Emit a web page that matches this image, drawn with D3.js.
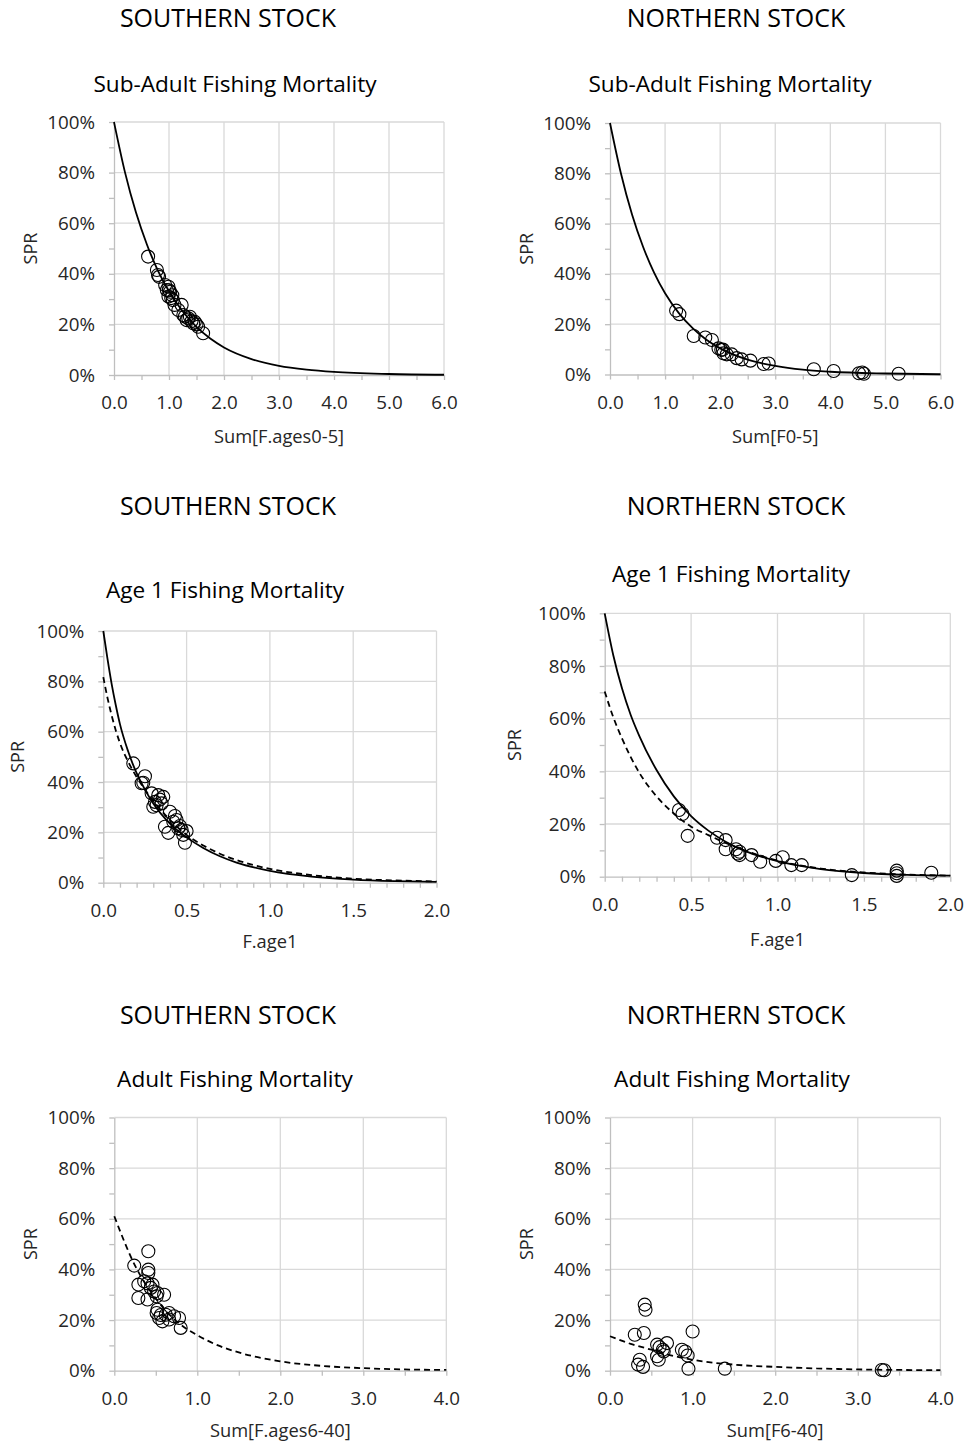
<!DOCTYPE html>
<html>
<head>
<meta charset="utf-8">
<script src="https://cdn.jsdelivr.net/npm/d3@7"></script>
<style>
  body { margin: 0; background: #fff; }
  svg { display: block; font-family: 'Open Sans', sans-serif; }
</style>
</head>
<body>
<svg id="chart" width="968" height="1444"></svg>
<script>
// ---- tick values ----
const yTicks = [0, 10, 20, 30, 40, 50, 60, 70, 80, 90, 100];   // labels on every 20%
const subXTicks = [0, 1, 2, 3, 4, 5, 6];
const subXMinor = [0, 0.5, 1, 1.5, 2, 2.5, 3, 3.5, 4, 4.5, 5, 5.5, 6];
const age1XTicks = [0, 0.5, 1, 1.5, 2];
const age1XMinor = [0, 0.1, 0.2, 0.3, 0.4, 0.5, 0.6, 0.7, 0.8, 0.9, 1, 1.1, 1.2, 1.3, 1.4, 1.5, 1.6, 1.7, 1.8, 1.9, 2];
const adultXTicks = [0, 1, 2, 3, 4];
const adultXMinor = [0, 0.5, 1, 1.5, 2, 2.5, 3, 3.5, 4];

// ---- southern stock, sub-adult F (sum F ages 0-5) vs SPR % ----
const southSubPts = [[0.62, 46.8], [0.78, 41.5], [0.80, 39.5], [0.82, 38.8], [0.93, 35.6], [0.96, 33.6],
  [0.99, 34.9], [1.00, 33.5], [1.02, 32.9], [0.99, 31.0], [1.04, 30.4], [1.06, 31.5], [1.07, 29.6],
  [1.10, 27.7], [1.17, 25.7], [1.23, 27.7], [1.26, 23.7], [1.29, 23.1], [1.32, 21.7], [1.35, 22.4],
  [1.38, 23.0], [1.41, 21.3], [1.44, 20.4], [1.47, 21.0], [1.50, 20.0], [1.53, 19.1], [1.62, 16.5]];
const southSubCurveF = [0, 0.2, 0.4, 0.6, 0.8, 1.0, 1.25, 1.5, 1.75, 2, 2.5, 3, 3.5, 4, 5, 6];
const southSubCurve = [100, 80.1, 64.2, 51.5, 41.2, 33.1, 25.1, 19.0, 14.4, 10.9, 6.3, 3.6, 2.1, 1.2, 0.4, 0.1];

// ---- northern stock, sub-adult F (sum F0-5) ----
const northSubPts = [[1.20, 25.4], [1.26, 24.0], [1.52, 15.3], [1.73, 14.7], [1.85, 13.7], [1.97, 10.4],
  [2.02, 9.8], [2.05, 9.9], [2.06, 8.4], [2.12, 8.0], [2.21, 8.0], [2.30, 6.5], [2.39, 6.0], [2.55, 5.5],
  [2.79, 4.2], [2.88, 4.4], [3.70, 2.1], [4.06, 1.4], [4.52, 0.5], [4.58, 0.8], [4.61, 0.3], [5.24, 0.3]];
const northSubCurveF = [0, 0.2, 0.4, 0.6, 0.8, 1.0, 1.25, 1.5, 1.75, 2, 2.5, 3, 3.5, 4, 5, 6];
const northSubCurve = [100, 79.8, 63.6, 50.8, 40.5, 32.3, 24.4, 18.4, 13.8, 10.4, 5.9, 3.4, 1.9, 1.1, 0.4, 0.1];

// ---- southern stock, age 1 F ----
const southAge1Pts = [[0.18, 47.4], [0.23, 39.5], [0.24, 39.7], [0.25, 42.3], [0.29, 35.5], [0.30, 30.2],
  [0.31, 32.1], [0.32, 30.8], [0.33, 34.8], [0.34, 33.0], [0.35, 31.5], [0.36, 34.1], [0.37, 22.2],
  [0.39, 19.8], [0.40, 28.2], [0.42, 24.2], [0.43, 26.5], [0.44, 24.9], [0.45, 21.6], [0.46, 22.5],
  [0.47, 21.0], [0.48, 19.0], [0.49, 15.9], [0.50, 20.5]];
const southAge1CurveF = [0, 0.025, 0.05, 0.075, 0.1, 0.15, 0.2, 0.25, 0.3, 0.4, 0.5, 0.6, 0.7, 0.8, 1.0, 1.25, 1.5, 1.75, 2.0];
const southAge1Solid = [100, 89, 79, 70.5, 63, 52, 43.5, 37, 31.5, 23.5, 18, 13.8, 10.5, 8, 4.7, 2.4, 1.2, 0.6, 0.3];
const southAge1Dashed = [81.7, 73.5, 66.5, 60.5, 55.5, 48, 42, 37, 32.5, 25, 19, 14.8, 11.5, 9, 5.5, 3, 1.6, 0.9, 0.5];

// ---- northern stock, age 1 F ----
const northAge1Pts = [[0.43, 25.3], [0.45, 23.8], [0.48, 15.5], [0.65, 14.8], [0.70, 13.9], [0.70, 10.4],
  [0.76, 10.4], [0.77, 8.8], [0.78, 9.5], [0.78, 8.2], [0.85, 8.2], [0.90, 5.7], [0.99, 6.0], [1.03, 7.4],
  [1.08, 4.4], [1.14, 4.4], [1.43, 0.6], [1.69, 2.3], [1.69, 1.3], [1.69, 0.3], [1.89, 1.5]];
const northAge1CurveF = [0, 0.05, 0.1, 0.15, 0.2, 0.3, 0.4, 0.5, 0.6, 0.7, 0.8, 1.0, 1.25, 1.5, 1.75, 2.0];
const northAge1Solid = [100, 84, 71.5, 61.5, 53.5, 40.5, 30.5, 23, 17.5, 13.3, 10.1, 5.9, 2.9, 1.4, 0.7, 0.4];
const northAge1Dashed = [70.3, 60.5, 52.5, 45.5, 39.5, 30.5, 24, 19, 15.8, 12.8, 10.2, 6.1, 3.1, 1.6, 0.8, 0.4];

// ---- southern stock, adult F (sum F ages 6-40) ----
const southAdultPts = [[0.41, 47.2], [0.24, 41.5], [0.41, 39.9], [0.41, 38.6], [0.29, 34.0], [0.36, 35.3],
  [0.40, 34.5], [0.46, 34.0], [0.44, 32.7], [0.48, 31.3], [0.52, 30.7], [0.60, 30.0], [0.29, 28.7],
  [0.40, 28.1], [0.51, 29.4], [0.52, 24.1], [0.51, 22.8], [0.56, 22.0], [0.62, 22.1], [0.66, 22.8],
  [0.54, 20.8], [0.58, 19.5], [0.66, 20.2], [0.72, 21.5], [0.78, 20.8], [0.80, 16.9]];
const southAdultCurveF = [0, 0.25, 0.5, 0.75, 1, 1.25, 1.5, 2, 2.5, 3, 3.5, 4];
const southAdultDashed = [61, 41.5, 28.5, 19.5, 14, 10, 7.2, 3.7, 1.9, 1.0, 0.5, 0.3];

// ---- northern stock, adult F (sum F6-40) ----
const northAdultPts = [[0.30, 14.2], [0.41, 14.9], [0.42, 26.1], [0.43, 24.1], [0.34, 2.4], [0.36, 4.3],
  [0.40, 1.5], [0.57, 10.3], [0.60, 9.3], [0.64, 8.3], [0.65, 7.6], [0.57, 5.7], [0.59, 4.3], [0.69, 10.9],
  [0.87, 8.3], [0.91, 7.6], [0.94, 6.0], [0.95, 0.8], [1.00, 15.5], [1.39, 0.8], [3.29, 0.3], [3.32, 0.2]];
const northAdultCurveF = [0, 0.25, 0.5, 0.75, 1, 1.5, 2, 2.5, 3, 3.5, 4];
const northAdultDashed = [13.6, 10.6, 8.3, 6.0, 4.3, 2.4, 1.5, 0.9, 0.5, 0.3, 0.2];

// ---- layout ----
const panels = [
  { stock: 'SOUTHERN STOCK', stockX: 228, stockY: 27, title: 'Sub-Adult Fishing Mortality', titleX: 235, titleY: 91.5,
    left: 114, right: 444, top: 122, bottom: 375, xMax: 6, xTicks: subXTicks, xMinor: subXMinor,
    xLabel: 'Sum[F.ages0-5]', sprX: 31, xLabelY: 443,
    pts: southSubPts, curves: [{ f: southSubCurveF, v: southSubCurve, dashed: false }] },
  { stock: 'NORTHERN STOCK', stockX: 736, stockY: 27, title: 'Sub-Adult Fishing Mortality', titleX: 730, titleY: 91.5,
    left: 610, right: 940.5, top: 123, bottom: 374.5, xMax: 6, xTicks: subXTicks, xMinor: subXMinor,
    xLabel: 'Sum[F0-5]', sprX: 527, xLabelY: 443,
    pts: northSubPts, curves: [{ f: northSubCurveF, v: northSubCurve, dashed: false }] },
  { stock: 'SOUTHERN STOCK', stockX: 228, stockY: 515, title: 'Age 1 Fishing Mortality', titleX: 225, titleY: 598,
    left: 103.3, right: 436.5, top: 631, bottom: 882.7, xMax: 2, xTicks: age1XTicks, xMinor: age1XMinor,
    xLabel: 'F.age1', sprX: 18, xLabelY: 948,
    pts: southAge1Pts, curves: [{ f: southAge1CurveF, v: southAge1Solid, dashed: false },
                                { f: southAge1CurveF, v: southAge1Dashed, dashed: true }] },
  { stock: 'NORTHERN STOCK', stockX: 736, stockY: 515, title: 'Age 1 Fishing Mortality', titleX: 731, titleY: 581.5,
    left: 604.7, right: 950.3, top: 613.3, bottom: 876.7, xMax: 2, xTicks: age1XTicks, xMinor: age1XMinor,
    xLabel: 'F.age1', sprX: 515, xLabelY: 946,
    pts: northAge1Pts, curves: [{ f: northAge1CurveF, v: northAge1Solid, dashed: false },
                                { f: northAge1CurveF, v: northAge1Dashed, dashed: true }] },
  { stock: 'SOUTHERN STOCK', stockX: 228, stockY: 1024, title: 'Adult Fishing Mortality', titleX: 235, titleY: 1087,
    left: 114.3, right: 446.3, top: 1117.5, bottom: 1370.7, xMax: 4, xTicks: adultXTicks, xMinor: adultXMinor,
    xLabel: 'Sum[F.ages6-40]', sprX: 31, xLabelY: 1437,
    pts: southAdultPts, curves: [{ f: southAdultCurveF, v: southAdultDashed, dashed: true }] },
  { stock: 'NORTHERN STOCK', stockX: 736, stockY: 1024, title: 'Adult Fishing Mortality', titleX: 732, titleY: 1087,
    left: 610, right: 940.4, top: 1117.5, bottom: 1370.7, xMax: 4, xTicks: adultXTicks, xMinor: adultXMinor,
    xLabel: 'Sum[F6-40]', sprX: 527, xLabelY: 1437,
    pts: northAdultPts, curves: [{ f: northAdultCurveF, v: northAdultDashed, dashed: true }] }
];

const svg = d3.select('#chart');
svg.append('rect').attr('width', 968).attr('height', 1444).attr('fill', '#fff');

const textColor = '#262626';
const axisColor = '#bfbfbf';
const gridColor = '#d9d9d9';

function drawPanel(p) {
  const g = svg.append('g');
  const x = d3.scaleLinear().domain([0, p.xMax]).range([p.left, p.right]);
  const y = d3.scaleLinear().domain([0, 100]).range([p.bottom, p.top]);

  // Titles
  g.append('text')
    .attr('x', p.stockX).attr('y', p.stockY)
    .attr('text-anchor', 'middle').attr('font-size', 25).attr('fill', '#000')
    .text(p.stock);
  g.append('text')
    .attr('x', p.titleX).attr('y', p.titleY)
    .attr('text-anchor', 'middle').attr('font-size', 22.6).attr('fill', '#000')
    .text(p.title);

  // Gridlines
  g.append('g').selectAll('line')
    .data(p.xTicks.filter(d => d > 0))
    .enter().append('line')
    .attr('x1', d => x(d)).attr('x2', d => x(d))
    .attr('y1', p.top).attr('y2', p.bottom)
    .attr('stroke', gridColor).attr('stroke-width', 1.3);
  g.append('g').selectAll('line')
    .data(yTicks.filter(d => d > 0 && d % 20 === 0))
    .enter().append('line')
    .attr('x1', p.left).attr('x2', p.right)
    .attr('y1', d => y(d)).attr('y2', d => y(d))
    .attr('stroke', gridColor).attr('stroke-width', 1.3);

  // Y axis
  g.append('g')
    .attr('transform', `translate(${p.left},0)`)
    .call(d3.axisLeft(y).tickValues(yTicks).tickSize(5).tickSizeOuter(0).tickPadding(14)
      .tickFormat(d => d % 20 === 0 ? d + '%' : ''))
    .call(a => a.select('.domain').attr('stroke', axisColor).attr('stroke-width', 1.3))
    .call(a => a.selectAll('.tick line').attr('stroke', axisColor).attr('stroke-width', 1.3))
    .call(a => a.selectAll('.tick text').attr('fill', textColor)
      .attr('font-size', 18.8).attr('font-family', "'Open Sans', sans-serif"));

  // X axis
  const isMajor = d => p.xTicks.some(t => Math.abs(t - d) < 1e-6);
  g.append('g')
    .attr('transform', `translate(0,${p.bottom})`)
    .call(d3.axisBottom(x).tickValues(p.xMinor).tickSize(5).tickSizeOuter(0).tickPadding(16)
      .tickFormat(d => isMajor(d) ? d3.format('.1f')(d) : ''))
    .call(a => a.select('.domain').attr('stroke', axisColor).attr('stroke-width', 1.3))
    .call(a => a.selectAll('.tick line').attr('stroke', axisColor).attr('stroke-width', 1.3))
    .call(a => a.selectAll('.tick text').attr('fill', textColor)
      .attr('font-size', 18.8).attr('font-family', "'Open Sans', sans-serif"));

  // Axis titles
  g.append('text')
    .attr('transform', `translate(${p.sprX},${(p.top + p.bottom) / 2}) rotate(-90)`)
    .attr('text-anchor', 'middle').attr('dy', '0.35em')
    .attr('font-size', 18).attr('fill', textColor)
    .text('SPR');
  g.append('text')
    .attr('x', (p.left + p.right) / 2).attr('y', p.xLabelY)
    .attr('text-anchor', 'middle')
    .attr('font-size', 18.3).attr('fill', textColor)
    .text(p.xLabel);

  // Fitted curves
  const line = d3.line()
    .x(d => x(d[0]))
    .y(d => y(d[1]))
    .curve(d3.curveMonotoneX);
  p.curves.forEach(c => {
    g.append('path')
      .datum(d3.zip(c.f, c.v))
      .attr('fill', 'none')
      .attr('stroke', '#000')
      .attr('stroke-width', 1.8)
      .attr('stroke-dasharray', c.dashed ? '6,4' : null)
      .attr('d', line);
  });

  // Observations
  g.append('g').selectAll('circle')
    .data(p.pts)
    .enter().append('circle')
    .attr('cx', d => x(d[0]))
    .attr('cy', d => y(d[1]))
    .attr('r', 6.5)
    .attr('fill', 'none')
    .attr('stroke', '#000')
    .attr('stroke-width', 1.1);
}

panels.forEach(drawPanel);
</script>
</body>
</html>
